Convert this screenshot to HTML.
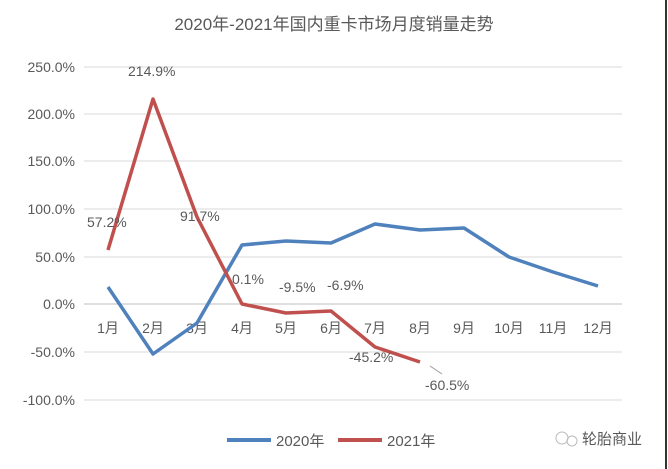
<!DOCTYPE html><html><head><meta charset="utf-8"><style>body{margin:0;background:#fff}svg{display:block}text{font-family:"Liberation Sans","Noto Sans CJK SC",sans-serif;fill:#595959}</style></head><body>
<svg width="668" height="469" xmlns="http://www.w3.org/2000/svg">
<rect width="668" height="469" fill="#fff"/>
<line x1="666" y1="0" x2="666" y2="469" stroke="#333" stroke-width="2"/>
<text x="334" y="30" font-size="17" text-anchor="middle">2020年-2021年国内重卡市场月度销量走势</text>
<g stroke="#d9d9d9" stroke-width="1">
<line x1="84" x2="622" y1="67" y2="67"/><line x1="84" x2="622" y1="114" y2="114"/><line x1="84" x2="622" y1="161" y2="161"/><line x1="84" x2="622" y1="209" y2="209"/><line x1="84" x2="622" y1="257" y2="257"/><line x1="84" x2="622" y1="352" y2="352"/><line x1="84" x2="622" y1="400" y2="400"/>
</g>
<line x1="84" x2="622" y1="304" y2="304" stroke="#bfbfbf"/>
<g font-size="14" text-anchor="end">
<text x="75" y="72">250.0%</text><text x="75" y="119">200.0%</text><text x="75" y="166">150.0%</text><text x="75" y="214">100.0%</text><text x="75" y="262">50.0%</text><text x="75" y="309">0.0%</text><text x="75" y="357">-50.0%</text><text x="75" y="405">-100.0%</text>
</g>
<g font-size="14" text-anchor="middle">
<text x="108" y="333">1月</text><text x="153" y="333">2月</text><text x="197" y="333">3月</text><text x="242" y="333">4月</text><text x="286" y="333">5月</text><text x="331" y="333">6月</text><text x="375" y="333">7月</text><text x="420" y="333">8月</text><text x="464" y="333">9月</text><text x="509" y="333">10月</text><text x="553" y="333">11月</text><text x="598" y="333">12月</text>
</g>
<polyline fill="none" stroke="#4f81bd" stroke-width="3.5" stroke-linejoin="round" points="108,287 153,354 197,323 242,245 286,241 331,243 375,224 420,230 464,228 509,257 553,272 598,286"/>
<polyline fill="none" stroke="#c0504d" stroke-width="3.5" stroke-linejoin="round" points="108,250 153,99 197,217 242,304 286,313 331,311 375,347 420,362"/>
<line x1="430" y1="366" x2="442" y2="374" stroke="#999"/>
<g font-size="14">
<text x="87" y="227">57.2%</text><text x="128" y="76">214.9%</text><text x="180" y="221">91.7%</text><text x="232" y="284">0.1%</text><text x="279" y="292">-9.5%</text><text x="327" y="290">-6.9%</text><text x="349" y="362">-45.2%</text><text x="425" y="390">-60.5%</text>
</g>
<line x1="227" y1="440" x2="271" y2="440" stroke="#4f81bd" stroke-width="4"/>
<text x="276" y="446" font-size="15">2020年</text>
<line x1="338" y1="440" x2="382" y2="440" stroke="#c0504d" stroke-width="4"/>
<text x="387" y="446" font-size="15">2021年</text>
<circle cx="562" cy="438" r="6" fill="none" stroke="#bbb"/><circle cx="572" cy="441" r="5" fill="none" stroke="#bbb"/>
<text x="582" y="444" font-size="15" fill="#666">轮胎商业</text>
</svg></body></html>
